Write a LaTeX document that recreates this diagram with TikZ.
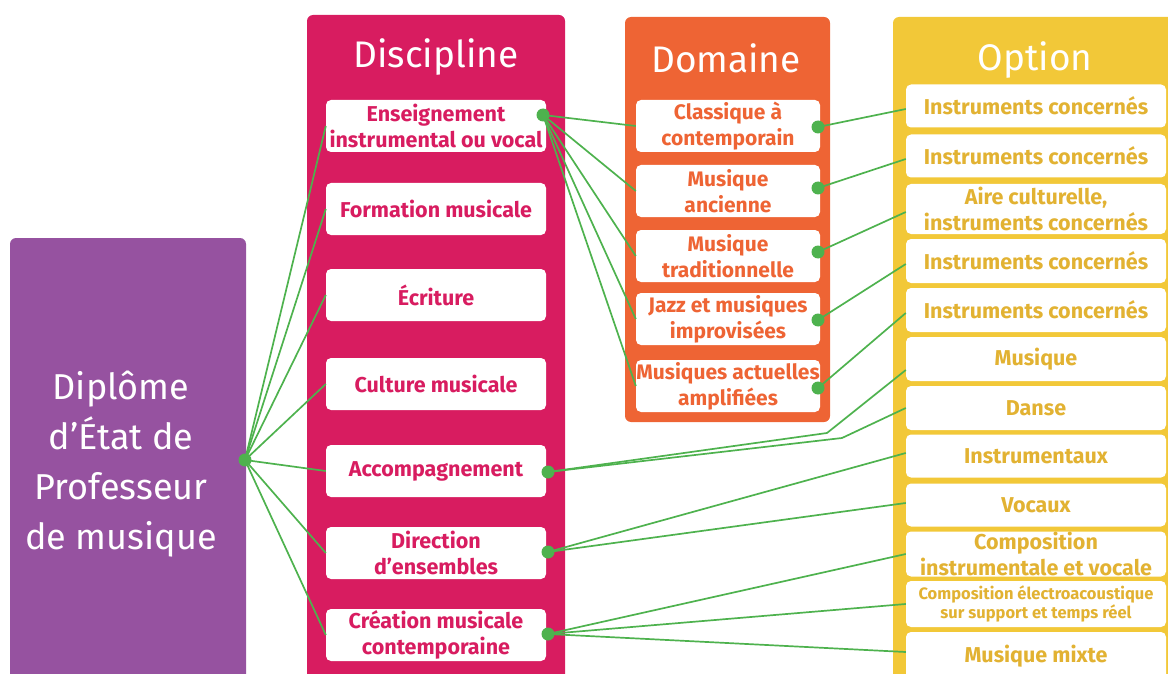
\documentclass[tikz,border=0pt]{standalone}
\usepackage{fontspec}
\setmainfont{Fira Sans}
\usepackage{tikz}
\usetikzlibrary{positioning}

\definecolor{dpurple}{RGB}{150,82,160}
\definecolor{dpink}{RGB}{216,28,96}
\definecolor{dorange}{RGB}{238,100,52}
\definecolor{dyellow}{RGB}{242,200,56}
\definecolor{dgold}{RGB}{226,178,50}
\definecolor{dgreen}{RGB}{78,178,78}

\begin{document}
\begin{tikzpicture}[x=1pt,y=-1pt,
  head/.style={text=white,font=\fontsize{37}{42}\selectfont},
  item/.style={fill=white,rounded corners=5pt,align=center,inner sep=0pt,
    font=\bfseries\fontsize{21.5}{26}\selectfont},
  disc/.style={item,text=dpink,minimum width=220pt,minimum height=52pt},
  dom/.style={item,text=dorange,minimum width=184pt,minimum height=52pt,
    font=\bfseries\fontsize{21}{26}\selectfont},
  opt/.style={item,text=dgold,minimum width=260pt},
  optsmall/.style={font=\bfseries\fontsize{16.5}{19.5}\selectfont},
  link/.style={draw=dgreen,line width=1.7pt}]

\useasboundingbox (0,0) rectangle (1168,674);

% Coloured columns
\fill [dpurple, rounded corners=6pt] (10,238) rectangle (246,700);
\fill [dpink, rounded corners=6pt] (307,15) rectangle (565,700);
\fill [dorange, rounded corners=6pt] (625,17) rectangle (830,422);
\fill [dyellow, rounded corners=6pt] (893,17) rectangle (1190,700);

\node [text=white, align=center, font=\fontsize{36}{50}\selectfont] (dip) at (121,464)
  {Diplôme\\d’État de\\Professeur\\de musique};
\node [head] (hdis) at (436,57) {Discipline};
\node [head] (hdom) at (726,58) {Domaine};
\node [head] (hopt) at (1035,60) {Option};

% Disciplines
\foreach \i/\y/\txt in {
  1/126/{Enseignement\\instrumental ou vocal},
  2/209/{Formation musicale},
  3/295/{Écriture},
  4/384/{Culture musicale},
  5/471/{Accompagnement},
  6/553/{Direction\\d’ensembles},
  7/635/{Création musicale\\contemporaine}} {
  \node [disc] (dis\i) at (436,\y) {\txt};
}

% Domaines
\foreach \i/\y/\txt in {
  1/126/{Classique à\\contemporain},
  2/191/{Musique\\ancienne},
  3/256/{Musique\\traditionnelle},
  4/319/{Jazz et musiques\\improvisées},
  5/386/{Musiques actuelles\\amplifiées}} {
  \node [dom] (dom\i) at (728,\y) {\txt};
}

% Options
\foreach \i/\y/\h/\s/\txt in {
  1/106/43/{}/{Instruments concernés},
  2/156/43/{}/{Instruments concernés},
  3/209/50/{}/{Aire culturelle,\\instruments concernés},
  4/261/44/{}/{Instruments concernés},
  5/310/44/{}/{Instruments concernés},
  6/359/44/{}/{Musique},
  7/408/44/{}/{Danse},
  8/456/43/{}/{Instrumentaux},
  9/505/43/{}/{Vocaux},
  10/554/45/{}/{Composition\\instrumentale et vocale},
  11/604/46/optsmall/{Composition électroacoustique\\sur support et temps réel},
  12/656/48/{}/{Musique mixte}} {
  \node [opt,minimum height=\h pt,\s] (opt\i) at (1036,\y) {\txt};
}

% Branching points
\coordinate (pd) at (245,460);
\coordinate (ens) at (543,115);
\coordinate (acc) at (548,472);
\coordinate (dir) at (548,552);
\coordinate (cre) at (548,634);
\foreach \i/\y in {1/127,2/188,3/252,4/320,5/388} {
  \coordinate (dd\i) at (818,\y);
}
\coordinate (bend1) at (827,433);
\coordinate (bend2) at (842,438);

% Connectors
\foreach \i in {1,...,7} {
  \draw [link] (pd) -- (dis\i.west);
}
\foreach \i in {1,...,5} {
  \draw [link] (ens) -- (dom\i.west);
  \draw [link] (dd\i) -- ([yshift=-3pt]opt\i.west);
}
\draw [link] (acc) -- (bend1) -- ([yshift=-11pt]opt6.west);
\draw [link] (acc) -- (bend2) -- (opt7.west);
\draw [link] (dir) -- ([yshift=3pt]opt8.west);
\draw [link] (dir) -- ([yshift=2pt]opt9.west);
\draw [link] (cre) -- (opt10.west);
\draw [link] (cre) -- (opt11.west);
\draw [link] (cre) -- ([yshift=4pt]opt12.west);

\foreach \c in {pd,ens,acc,dir,cre,dd1,dd2,dd3,dd4,dd5} {
  \fill [dgreen] (\c) circle (6.5);
}

\end{tikzpicture}
\end{document}
